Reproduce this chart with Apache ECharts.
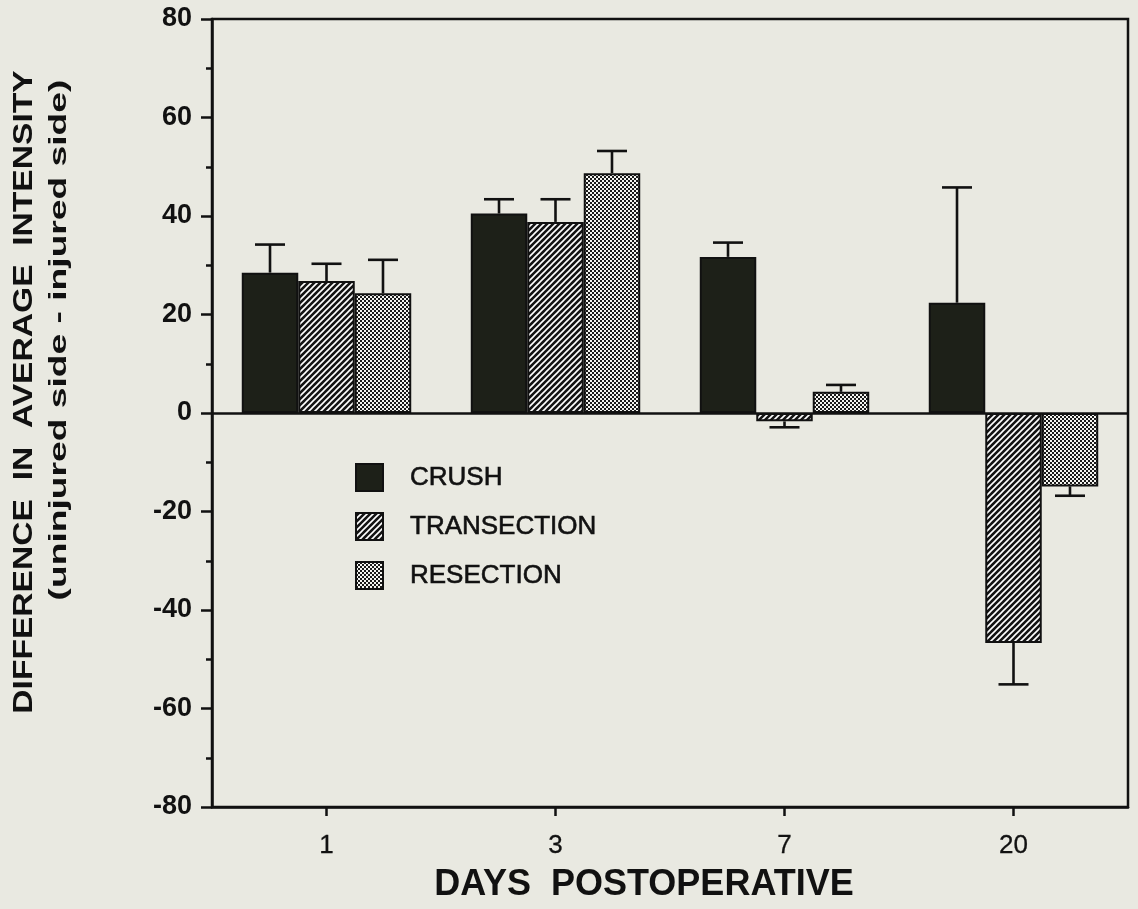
<!DOCTYPE html>
<html>
<head>
<meta charset="utf-8">
<script src="https://cdn.jsdelivr.net/npm/echarts@6/dist/echarts.min.js"></script>
<style>
html,body{margin:0;padding:0;background:#e9e9e1;}
#chart{width:1138px;height:909px;}
</style>
</head>
<body>
<div id="chart"></div>
<script>
// ---- data ----
const categories = ['1', '3', '7', '20'];
const seriesNames = ['CRUSH', 'TRANSECTION', 'RESECTION'];
const crush = [28.5, 40.5, 31.7, 22.4];
const crushErr = [5.7, 2.9, 2.9, 23.4];
const transection = [26.8, 38.8, -1.7, -46.7];
const transectionErr = [3.5, 4.6, 1.2, 8.4];
const resection = [24.3, 48.7, 4.3, -14.9];
const resectionErr = [6.8, 4.5, 1.4, 1.9];
const yTicks = { min: -80, max: 80, interval: 20 };
const xTitle = 'DAYS  POSTOPERATIVE';
const yTitle1 = 'DIFFERENCE  IN  AVERAGE  INTENSITY';
const yTitle2 = '(uninjured side - injured side)';

// ---- patterns ----
function hatchPattern() {
  const c = document.createElement('canvas');
  c.width = 6; c.height = 6;
  const g = c.getContext('2d');
  g.fillStyle = '#141414'; g.fillRect(0, 0, 6, 6);
  g.strokeStyle = '#ffffff'; g.lineWidth = 1.6;
  g.beginPath();
  g.moveTo(0, 6); g.lineTo(6, 0);
  g.moveTo(-3, 3); g.lineTo(3, -3);
  g.moveTo(3, 9); g.lineTo(9, 3);
  g.stroke();
  return c;
}
function checkerPattern() {
  const c = document.createElement('canvas');
  c.width = 4; c.height = 4;
  const g = c.getContext('2d');
  g.fillStyle = '#f4f4f0'; g.fillRect(0, 0, 4, 4);
  g.fillStyle = '#1a1a1a';
  g.fillRect(0, 0, 2, 2); g.fillRect(2, 2, 2, 2);
  return c;
}

const fills = [
  '#1d2018',
  { image: hatchPattern(), repeat: 'repeat' },
  { image: checkerPattern(), repeat: 'repeat' }
];
const values = [crush, transection, resection];
const errs = [crushErr, transectionErr, resectionErr];
const catGap = 0.26;
const ink = '#111111';

const series = [];
values.forEach((vals, s) => {
  series.push({
    name: seriesNames[s],
    type: 'bar',
    data: vals,
    barGap: '0%',
    barCategoryGap: (catGap * 100) + '%',
    itemStyle: { color: fills[s], borderColor: ink, borderWidth: 2 },
    emphasis: { disabled: true },
    z: 2,
    markLine: s === 0 ? {
      silent: true, symbol: 'none', label: { show: false },
      lineStyle: { color: ink, width: 2.5, type: 'solid' },
      data: [{ yAxis: 0 }]
    } : undefined
  });
});
values.forEach((vals, s) => {
  series.push({
    name: seriesNames[s] + ' err',
    type: 'custom',
    z: 3,
    encode: { x: 0, y: 1 },
    data: vals.map((v, i) => [i, v, errs[s][i]]),
    renderItem: function (params, api) {
      const ci = api.value(0), v = api.value(1), e = api.value(2);
      const catW = api.size([1, 0])[0];
      const bw = catW * (1 - catGap) / 3;
      const p0 = api.coord([ci, v]);
      const p1 = api.coord([ci, v + (v >= 0 ? 1 : -1) * e]);
      const x = p0[0] + (s - 1) * bw;
      const st = { stroke: ink, lineWidth: 2.6 };
      return {
        type: 'group',
        children: [
          { type: 'line', shape: { x1: x, y1: p0[1], x2: x, y2: p1[1] }, style: st },
          { type: 'line', shape: { x1: x - 15, y1: p1[1], x2: x + 15, y2: p1[1] }, style: st }
        ]
      };
    }
  });
});

const chart = echarts.init(document.getElementById('chart'), null, { renderer: 'canvas' });
chart.setOption({
  backgroundColor: '#e9e9e1',
  animation: false,
  textStyle: { fontFamily: 'Liberation Sans' },
  grid: {
    left: 212, right: 10, top: 19, bottom: 102,
    show: true, borderColor: ink, borderWidth: 2.5, backgroundColor: 'transparent'
  },
  legend: {
    data: seriesNames,
    orient: 'vertical',
    left: 350, top: 458,
    itemWidth: 27, itemHeight: 27, itemGap: 20,
    icon: 'rect',
    selectedMode: false,
    textStyle: { fontSize: 26, color: ink, fontFamily: 'Liberation Sans', padding: [0, 0, 0, 22],
      textBorderColor: ink, textBorderWidth: 0.6 }
  },
  xAxis: {
    type: 'category',
    data: categories,
    axisLine: { onZero: false, lineStyle: { color: ink, width: 2.5 } },
    axisTick: { show: true, alignWithLabel: true, length: 9, lineStyle: { color: ink, width: 2.5 } },
    axisLabel: { fontSize: 26, color: ink, margin: 26, fontFamily: 'Liberation Sans',
      textBorderColor: ink, textBorderWidth: 0.3 },
    splitLine: { show: false }
  },
  yAxis: {
    type: 'value',
    min: yTicks.min, max: yTicks.max, interval: yTicks.interval,
    axisLine: { show: true, lineStyle: { color: ink, width: 2.5 } },
    axisTick: { show: true, length: 11, lineStyle: { color: ink, width: 2.5 } },
    minorTick: { show: true, splitNumber: 2, length: 6, lineStyle: { color: ink, width: 2.5 } },
    axisLabel: { fontSize: 27, fontWeight: 'bold', color: ink, margin: 20, fontFamily: 'Liberation Sans' },
    splitLine: { show: false },
    minorSplitLine: { show: false }
  },
  graphic: [
    {
      type: 'text', x: 24, y: 392, rotation: Math.PI / 2, scaleX: 1.2,
      style: { text: yTitle1, font: 'bold 28px "Liberation Sans"', fill: ink,
        align: 'center', verticalAlign: 'middle', textAlign: 'center', textVerticalAlign: 'middle' }
    },
    {
      type: 'text', x: 59, y: 340, rotation: Math.PI / 2, scaleX: 1.55,
      style: { text: yTitle2, font: 'bold 24px "Liberation Sans"', fill: ink,
        align: 'center', verticalAlign: 'middle', textAlign: 'center', textVerticalAlign: 'middle' }
    },
    {
      type: 'text', x: 644, y: 885,
      style: { text: xTitle, font: 'bold 36px "Liberation Sans"', fill: ink,
        align: 'center', verticalAlign: 'middle', textAlign: 'center', textVerticalAlign: 'middle' }
    }
  ],
  series: series
});
</script>
</body>
</html>
